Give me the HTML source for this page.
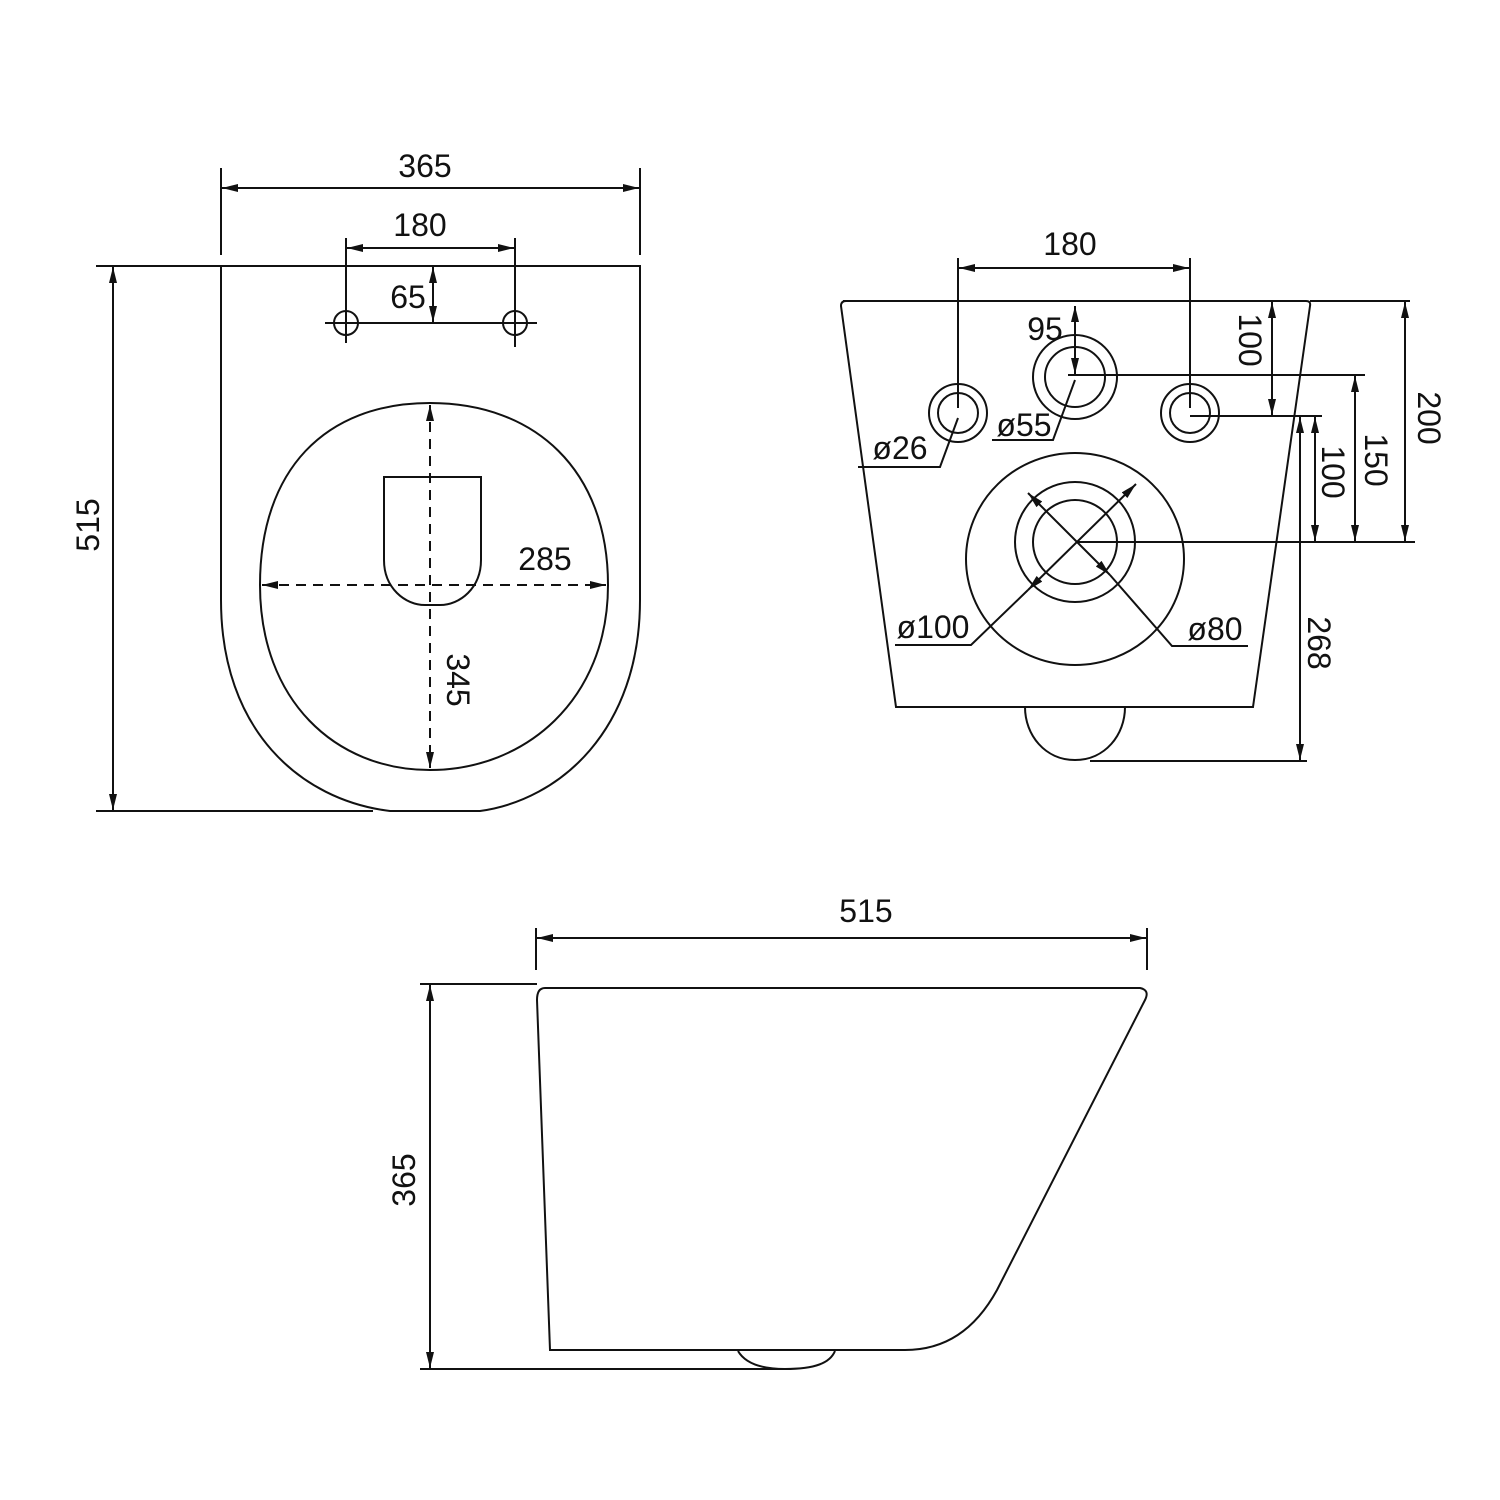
<!DOCTYPE html>
<html><head><meta charset="utf-8"><style>html,body{margin:0;padding:0;background:#fff}svg{display:block}text{font-family:"Liberation Sans",sans-serif;font-size:32px;fill:#111}</style></head>
<body>
<svg width="1500" height="1500" viewBox="0 0 1500 1500" xmlns="http://www.w3.org/2000/svg">
<defs>
<marker id="a" viewBox="0 0 16 8" refX="16" refY="4" markerWidth="16" markerHeight="8" markerUnits="userSpaceOnUse" orient="auto-start-reverse"><path d="M0,0 L16,4 L0,8 Z" fill="#111"/></marker>
</defs>
<g fill="none" stroke="#111" stroke-width="2">
<!-- TOP VIEW -->
<path d="M221,266 L640,266 L640,600 C640,730 560,800 480,811 L390,811 C300,800 221,730 221,600 Z"/>
<path d="M430,403 C535,403 608,470 608,585 C608,700 525,770 430,770 C335,770 260,700 260,585 C260,470 325,403 430,403 Z"/>
<path d="M384,477 L481,477 L481,560 C481,588 460,605 440,605 L425,605 C405,605 384,588 384,560 Z"/>
<line x1="430" y1="405" x2="430" y2="768" stroke-dasharray="10,7" marker-start="url(#a)" marker-end="url(#a)"/>
<line x1="262" y1="585" x2="606" y2="585" stroke-dasharray="10,7" marker-start="url(#a)" marker-end="url(#a)"/>
<circle cx="346" cy="323" r="12"/><circle cx="515" cy="323" r="12"/>
<line x1="325" y1="323" x2="537" y2="323"/>
<line x1="346" y1="238" x2="346" y2="343"/><line x1="515" y1="238" x2="515" y2="347"/>
<line x1="347" y1="248" x2="514" y2="248" marker-start="url(#a)" marker-end="url(#a)"/>
<line x1="221" y1="168" x2="221" y2="255"/><line x1="640" y1="168" x2="640" y2="255"/>
<line x1="222" y1="188" x2="639" y2="188" marker-start="url(#a)" marker-end="url(#a)"/>
<line x1="433" y1="267" x2="433" y2="322" marker-start="url(#a)" marker-end="url(#a)"/>
<line x1="96" y1="266" x2="221" y2="266"/><line x1="96" y1="811" x2="373" y2="811"/>
<line x1="113" y1="267" x2="113" y2="810" marker-start="url(#a)" marker-end="url(#a)"/>
<!-- FRONT VIEW -->
<path d="M843,301 L1306,301 Q1311,301 1310,306 L1253,707 L896,707 L841,306 Q841,301 846,301"/>
<path d="M1025,707 C1025,735 1045,760 1075,760 C1105,760 1125,735 1125,707"/>
<circle cx="958" cy="413" r="29"/><circle cx="958" cy="413" r="20"/>
<circle cx="1190" cy="413" r="29"/><circle cx="1190" cy="413" r="20"/>
<circle cx="1075" cy="377" r="42"/><circle cx="1075" cy="377" r="30"/>
<ellipse cx="1075" cy="559" rx="109" ry="106"/>
<circle cx="1075" cy="542" r="60"/><circle cx="1075" cy="542" r="42"/>
<line x1="958" y1="258" x2="958" y2="408"/><line x1="1190" y1="258" x2="1190" y2="408"/>
<line x1="959" y1="268" x2="1189" y2="268" marker-start="url(#a)" marker-end="url(#a)"/>
<line x1="1068" y1="375" x2="1365" y2="375"/>
<line x1="1190" y1="416" x2="1322" y2="416"/>
<line x1="1077" y1="542" x2="1415" y2="542"/>
<line x1="1310" y1="301" x2="1410" y2="301"/>
<line x1="1090" y1="761" x2="1307" y2="761"/>
<line x1="1272" y1="302" x2="1272" y2="415" marker-start="url(#a)" marker-end="url(#a)"/>
<line x1="1075" y1="306" x2="1075" y2="374" marker-start="url(#a)" marker-end="url(#a)"/>
<line x1="1405" y1="302" x2="1405" y2="541" marker-start="url(#a)" marker-end="url(#a)"/>
<line x1="1355" y1="376" x2="1355" y2="541" marker-start="url(#a)" marker-end="url(#a)"/>
<line x1="1315" y1="417" x2="1315" y2="541" marker-start="url(#a)" marker-end="url(#a)"/>
<line x1="1300" y1="417" x2="1300" y2="760" marker-start="url(#a)" marker-end="url(#a)"/>
<polyline points="958,418 940,467 858,467"/>
<polyline points="1075,380 1053,440 992,440"/>
<line x1="1028" y1="590" x2="1136" y2="484" marker-start="url(#a)" marker-end="url(#a)"/>
<polyline points="1028,590 971,645 895,645"/>
<line x1="1028" y1="493" x2="1110" y2="575" marker-start="url(#a)" marker-end="url(#a)"/>
<polyline points="1110,575 1172,646 1248,646"/>
<!-- SIDE VIEW -->
<path d="M545,988 L1140,988 Q1150,990 1145,1000 L997,1290 C975,1330 945,1350 905,1350 L550,1350 L537,1000 Q537,988 545,988 Z"/>
<path d="M738,1351 C745,1363 760,1369 785,1369 C815,1369 830,1363 835,1351"/>
<line x1="536" y1="928" x2="536" y2="970"/><line x1="1147" y1="928" x2="1147" y2="970"/>
<line x1="537" y1="938" x2="1146" y2="938" marker-start="url(#a)" marker-end="url(#a)"/>
<line x1="420" y1="984" x2="537" y2="984"/><line x1="420" y1="1369" x2="790" y2="1369"/>
<line x1="430" y1="985" x2="430" y2="1368" marker-start="url(#a)" marker-end="url(#a)"/>
</g>
<g>
<text x="425" y="177" text-anchor="middle">365</text>
<text x="420" y="236" text-anchor="middle">180</text>
<text x="408" y="308" text-anchor="middle">65</text>
<text x="545" y="570" text-anchor="middle">285</text>
<text transform="translate(447,680) rotate(90)" text-anchor="middle">345</text>
<text transform="translate(99,525) rotate(-90)" text-anchor="middle">515</text>
<text x="1070" y="255" text-anchor="middle">180</text>
<text x="1045" y="340" text-anchor="middle">95</text>
<text transform="translate(1239,340) rotate(90)" text-anchor="middle">100</text>
<text transform="translate(1418,418) rotate(90)" text-anchor="middle">200</text>
<text transform="translate(1365,460) rotate(90)" text-anchor="middle">150</text>
<text transform="translate(1322,472) rotate(90)" text-anchor="middle">100</text>
<text transform="translate(1308,643) rotate(90)" text-anchor="middle">268</text>
<text x="900" y="459" text-anchor="middle">ø26</text>
<text x="1024" y="436" text-anchor="middle">ø55</text>
<text x="933" y="638" text-anchor="middle">ø100</text>
<text x="1215" y="640" text-anchor="middle">ø80</text>
<text x="866" y="922" text-anchor="middle">515</text>
<text transform="translate(415,1180) rotate(-90)" text-anchor="middle">365</text>
</g>
</svg>
</body></html>
